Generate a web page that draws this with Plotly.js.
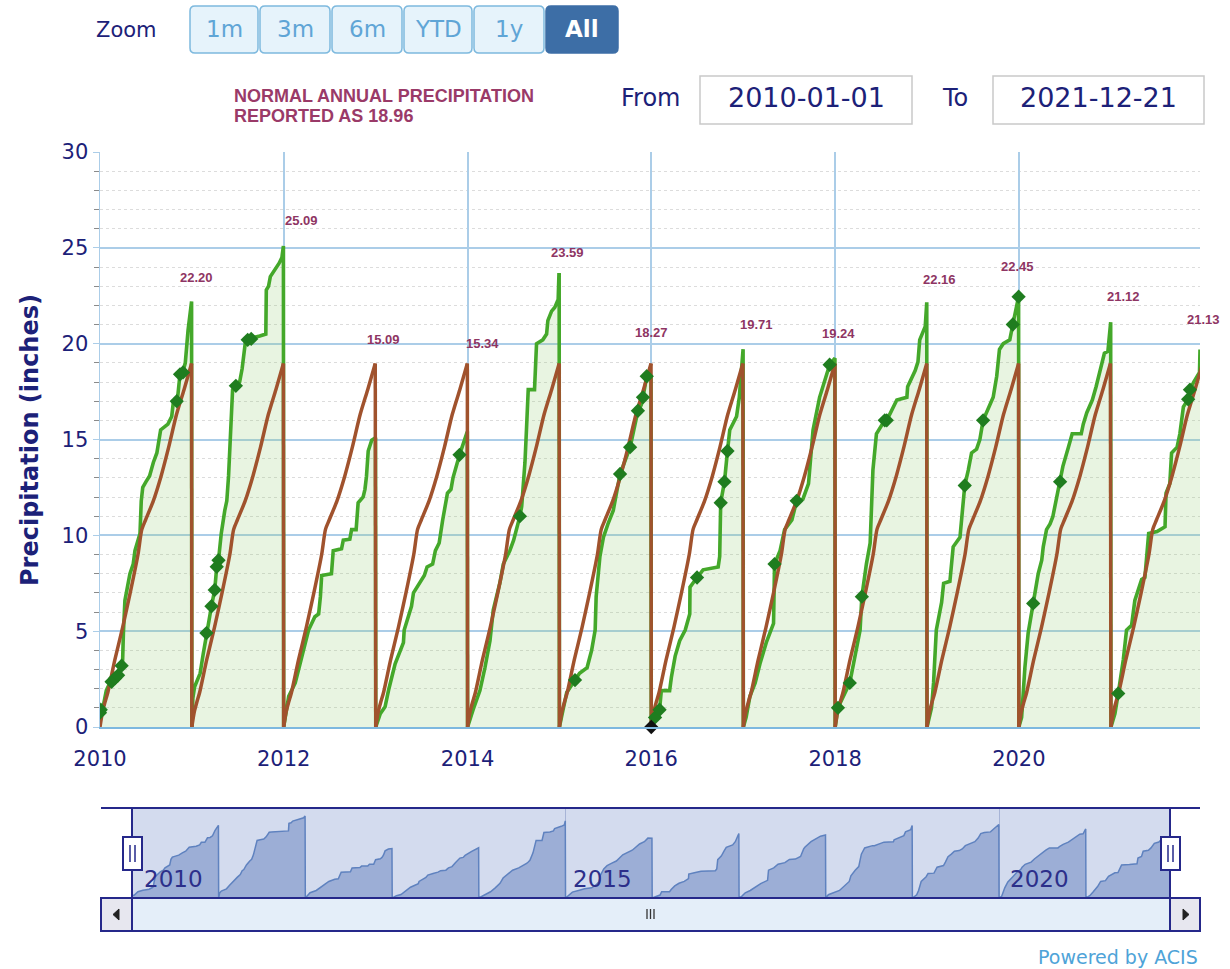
<!DOCTYPE html>
<html><head><meta charset="utf-8">
<script src="https://cdn.plot.ly/plotly-3.0.1.min.js"></script>
<style>html,body{margin:0;padding:0;background:#fff;}#chart{width:1230px;height:969px;}</style>
</head><body><div id="chart"></div>
<script>
// ---------------- DATA ----------------
const years = [2010,2011,2012,2013,2014,2015,2016,2017,2018,2019,2020,2021];
const yearTotals = ['22.20','25.09','15.09','15.34','23.59','18.27','19.71','19.24','22.16','22.45','21.12','21.13'];

// normal cumulative precipitation: [day of year, inches]
const normalDay = [0,10,20,31,59,90,120,151,166,181,212,243,273,304,334,364];
const normalVal = [0,0.8,1.3,1.8,3.5,5.2,7.0,9.0,10.3,10.8,11.8,13.1,14.6,16.3,17.6,18.96];

// observed cumulative precipitation per year: [day of year, inches]
const obs2010 = [[0,0.7],[10,0.9],[25,1.9],[32,2.1],[46,2.36],[60,2.55],[72,2.7],[86,3.2],[90,3.5],[93,4.9],[99,6.6],[119,8.0],[132,8.5],[139,9.2],[152,9.75],[159,10.1],[164,11.8],[170,12.5],[183,12.8],[197,13.1],[212,13.8],[226,14.3],[241,15.5],[270,15.8],[285,16.2],[292,17.0],[307,17.0],[318,18.4],[329,18.5],[339,19.0],[350,20.7],[361,22.2],[364,22.2]];
const obs2011 = [[0,0],[4,1.5],[11,2.1],[33,2.8],[45,3.8],[58,4.9],[78,6.3],[91,7.15],[99,8.36],[106,8.7],[117,10.1],[131,11.3],[139,11.8],[146,13.1],[150,14.1],[155,15.4],[162,17.6],[175,17.8],[190,18.0],[200,18.7],[213,20.1],[222,20.2],[240,20.3],[270,20.4],[294,20.5],[296,22.8],[305,23.0],[312,23.5],[328,23.8],[347,24.2],[358,24.5],[364,25.09]];
const obs2012 = [[0,0],[20,1.6],[46,2.3],[99,5.06],[124,5.75],[139,5.9],[146,6.8],[151,7.9],[190,8.0],[197,9.2],[230,9.3],[237,9.75],[263,9.8],[270,10.3],[288,10.3],[296,11.7],[316,12.0],[323,12.4],[329,13.06],[336,14.4],[350,14.97],[365,15.09]];
const obs2013 = [[0,0],[18,0.7],[37,1.05],[51,1.93],[77,3.3],[110,4.4],[113,5.06],[142,6.3],[150,7.0],[172,7.5],[193,7.9],[204,8.35],[226,8.5],[237,9.2],[252,9.6],[266,10.8],[285,12.2],[299,12.4],[307,13.0],[333,14.2],[347,14.8],[362,15.34],[364,15.34]];
const obs2014 = [[0,0],[22,0.9],[49,1.9],[69,3.1],[89,4.5],[102,6.1],[128,7.5],[142,8.5],[168,9.2],[183,9.75],[201,10.6],[208,11.0],[215,11.5],[228,13.8],[234,15.5],[241,17.6],[266,17.6],[274,20.0],[299,20.2],[314,20.5],[319,21.2],[334,21.7],[347,21.9],[360,22.3],[363,23.59],[364,23.59]];
const obs2015 = [[0,0],[29,1.8],[62,2.45],[80,2.8],[110,3.1],[128,4.0],[142,5.06],[146,6.8],[161,8.9],[175,9.9],[193,10.6],[214,11.3],[241,13.2],[281,14.6],[312,16.5],[325,16.8],[332,17.2],[347,18.3],[364,18.27]];
const obs2016 = [[0,0],[15,0.5],[33,0.9],[40,1.9],[73,1.9],[80,2.6],[95,3.7],[113,4.5],[135,5.06],[153,5.9],[154,7.3],[182,7.8],[206,8.2],[266,8.35],[272,8.9],[276,11.7],[291,12.8],[303,14.4],[312,15.5],[339,16.2],[350,17.2],[365,19.71]];
const obs2017 = [[0,0],[11,0.5],[26,1.6],[47,2.3],[66,3.3],[91,4.4],[120,5.4],[124,8.5],[146,9.2],[164,10.3],[193,10.8],[212,11.8],[237,11.9],[259,12.7],[272,15.0],[277,15.5],[303,17.2],[332,18.4],[343,18.9],[364,19.24]];
const obs2018 = [[0,0],[11,1.0],[58,2.3],[99,5.06],[106,6.8],[124,8.5],[139,9.6],[150,13.4],[164,15.3],[197,16.0],[205,16.0],[245,17.06],[285,17.2],[288,17.75],[318,18.6],[329,19.05],[336,20.2],[358,20.9],[364,22.16]];
const obs2019 = [[0,0],[18,1.0],[26,2.3],[37,5.06],[58,6.5],[66,7.5],[91,7.6],[104,9.4],[131,9.9],[139,10.95],[150,12.6],[164,13.4],[177,14.3],[197,14.5],[210,15.0],[223,16.0],[237,16.4],[263,17.2],[277,18.3],[288,19.7],[303,20.0],[329,20.2],[341,21.0],[356,22.1],[364,22.45]];
const obs2020 = [[0,0],[11,0.5],[24,3.1],[37,4.9],[57,6.45],[77,8.0],[91,8.7],[97,9.4],[110,10.3],[124,10.6],[135,10.97],[150,12.0],[164,12.8],[175,13.6],[197,14.6],[212,15.3],[248,15.3],[256,15.8],[270,16.4],[292,17.06],[307,17.75],[322,18.6],[340,19.5],[354,19.6],[362,20.9],[365,21.12]];
const obs2021 = [[0,0],[16,0.7],[29,1.75],[49,3.5],[62,5.06],[82,5.3],[95,6.6],[110,7.15],[122,7.7],[135,7.8],[150,10.1],[183,10.2],[215,10.45],[219,12.2],[234,12.7],[241,14.3],[263,14.6],[274,15.3],[288,16.7],[307,17.1],[314,17.6],[329,18.0],[345,18.4],[352,18.5],[354,19.7]];

// flagged (diamond) observations: [year, day of year, inches]
const flagged = [[2010,0,0.75],[2010,3,0.9],[2010,46,2.36],[2010,60,2.55],[2010,72,2.7],[2010,86,3.2],[2010,305,17.0],[2010,318,18.4],[2010,330,18.5],
 [2011,58,4.9],[2011,78,6.3],[2011,91,7.15],[2011,99,8.36],[2011,106,8.7],[2011,175,17.8],[2011,222,20.2],[2011,236,20.25],
 [2013,333,14.2],[2014,208,11.0],
 [2015,62,2.45],[2015,241,13.2],[2015,281,14.6],[2015,312,16.5],[2015,332,17.2],[2015,347,18.3],
 [2016,15,0.5],[2016,33,0.9],[2016,182,7.8],[2016,276,11.7],[2016,291,12.8],[2016,303,14.4],
 [2017,124,8.5],[2017,212,11.8],[2017,343,18.9],
 [2018,11,1.0],[2018,58,2.3],[2018,106,6.8],[2018,197,16.0],[2018,205,16.0],
 [2019,150,12.6],[2019,223,16.0],[2019,341,21.0],[2019,364,22.45],
 [2020,57,6.45],[2020,164,12.8],
 [2021,29,1.75],[2021,307,17.1],[2021,314,17.6]];
const missing = [[2016,0,0]];

// ---------------- BUILD ----------------
const obsByYear = [obs2010,obs2011,obs2012,obs2013,obs2014,obs2015,obs2016,obs2017,obs2018,obs2019,obs2020,obs2021];
function dayDate(y,d){return new Date(Date.UTC(y,0,1)+d*86400000).toISOString().slice(0,10);}
const gx=[],gy=[];
years.forEach((yr,i)=>obsByYear[i].forEach(p=>{gx.push(dayDate(yr,p[0]));gy.push(p[1]);}));
// normal: smooth yearly segments + vertical year-end drops
const nx=[],ny=[],dx=[],dy=[];
years.forEach((yr,k)=>{
  normalDay.forEach((d,j)=>{nx.push(dayDate(yr,d));ny.push(normalVal[j]);});
  nx.push(null);ny.push(null);
  if(k<years.length-1){
    dx.push(dayDate(yr,normalDay[normalDay.length-1]),dayDate(yr+1,0),null);
    dy.push(normalVal[normalVal.length-1],normalVal[0],null);
  }
});

const L=100,R=1200,T=152,B=898;
const px=x=>(x-L)/(R-L), py=y=>(B-y)/(B-T);
const NAVY='#1c2178';
const xRange=['2010-01-01','2021-12-21'];
const BROWN='#a0522d';

const traces=[
 {x:gx,y:gy,type:'scatter',mode:'lines',line:{color:'#44a82a',width:3.6},fill:'tozeroy',fillcolor:'rgba(150,205,120,0.22)',hoverinfo:'skip'},
 {x:dx,y:dy,type:'scatter',mode:'lines',line:{color:BROWN,width:3.5},connectgaps:false,hoverinfo:'skip'},
 {x:nx,y:ny,type:'scatter',mode:'lines',line:{color:BROWN,width:3.5,shape:'spline',smoothing:0.7},connectgaps:false,hoverinfo:'skip'},
 {x:flagged.map(f=>dayDate(f[0],f[1])),y:flagged.map(f=>f[2]),type:'scatter',mode:'markers',marker:{symbol:'diamond',size:11,color:'#1f7d1f'},hoverinfo:'skip'},
 {x:missing.map(f=>dayDate(f[0],f[1])),y:missing.map(f=>f[2]),type:'scatter',mode:'markers',marker:{symbol:'diamond',size:11,color:'#111'},cliponaxis:false,hoverinfo:'skip'},
 {x:gx,y:gy,xaxis:'x2',yaxis:'y2',type:'scatter',mode:'lines',line:{color:'#5f82bf',width:1.5},fill:'tozeroy',fillcolor:'#9caed6',hoverinfo:'skip'}
];

// label positions
const labelDate=['2011-01-20','2012-03-10','2013-01-30','2014-03-03','2015-02-03','2016-01-03','2017-02-24','2018-01-16','2019-02-20','2019-12-28','2021-02-18','2021-12-20'];
const labelLevel=[23.47,26.45,20.24,20.03,24.78,20.6,21.02,20.55,23.37,24.05,22.48,21.28];

const ann=[];
yearTotals.forEach((t,i)=>ann.push({x:labelDate[i],y:labelLevel[i],xref:'x',yref:'y',text:'<b>'+t+'</b>',showarrow:false,
  font:{family:'Liberation Sans, Arial',size:13,color:'#8e3563'},xanchor:'center',yanchor:'middle',xshift:(i===11?4:0)}));
function A(x,y,text,opt){ann.push(Object.assign({x:px(x),y:py(y),xref:'paper',yref:'paper',text:text,showarrow:false,xanchor:'center',yanchor:'middle',
  font:{family:'DejaVu Sans',size:20,color:NAVY}},opt||{}));}
A(30,440,'<b>Precipitation (inches)</b>',{textangle:-90,font:{family:'DejaVu Sans',size:24,color:NAVY}});
A(126,30,'Zoom',{font:{family:'DejaVu Sans',size:21,color:NAVY}});
const btn=[['1m',190,258],['3m',260,330],['6m',332,402],['YTD',404,472],['1y',474,544],['All',546,618]];
btn.forEach(b=>A((b[1]+b[2])/2,29,b[0]==='All'?'<b>All</b>':b[0],{font:{family:'DejaVu Sans',size:23,color:b[0]==='All'?'#ffffff':'#5fa5d6'}}));
A(650,98,'From',{font:{family:'DejaVu Sans',size:24,color:NAVY}});
A(806,98,'2010-01-01',{font:{family:'DejaVu Sans',size:27,color:NAVY}});
A(955,98,'To',{font:{family:'DejaVu Sans',size:24,color:NAVY}});
A(1098,98,'2021-12-21',{font:{family:'DejaVu Sans',size:27,color:NAVY}});
A(232,96,'<b>NORMAL ANNUAL PRECIPITATION</b>',{xanchor:'left',font:{family:'Liberation Sans, Arial',size:18,color:'#9a3a68'}});
A(232,116,'<b>REPORTED AS 18.96</b>',{xanchor:'left',font:{family:'Liberation Sans, Arial',size:18,color:'#9a3a68'}});
A(1200,957,'Powered by ACIS',{xanchor:'right',font:{family:'DejaVu Sans',size:19,color:'#4ea3d8'}});
A(142,879,'2010',{xanchor:'left',font:{family:'DejaVu Sans',size:23,color:'#2c2f8a'}});
A(571,879,'2015',{xanchor:'left',font:{family:'DejaVu Sans',size:23,color:'#2c2f8a'}});
A(1008,879,'2020',{xanchor:'left',font:{family:'DejaVu Sans',size:23,color:'#2c2f8a'}});

// shapes
const shapes=[];
function P(x,y){return px(x).toFixed(5)+','+py(y).toFixed(5);}
function rrect(x0,y0,x1,y1,r,fill,line,lw,layer){
 const d='M'+P(x0+r,y0)+' L'+P(x1-r,y0)+' Q'+P(x1,y0)+' '+P(x1,y0+r)+' L'+P(x1,y1-r)+' Q'+P(x1,y1)+' '+P(x1-r,y1)+
  ' L'+P(x0+r,y1)+' Q'+P(x0,y1)+' '+P(x0,y1-r)+' L'+P(x0,y0+r)+' Q'+P(x0,y0)+' '+P(x0+r,y0)+' Z';
 shapes.push({type:'path',path:d,xref:'paper',yref:'paper',fillcolor:fill,line:{color:line,width:lw},layer:layer||'above'});
}
function rect(x0,y0,x1,y1,fill,line,lw,layer){shapes.push({type:'rect',xref:'paper',yref:'paper',x0:px(x0),x1:px(x1),y0:py(y1),y1:py(y0),fillcolor:fill,line:{color:line,width:lw},layer:layer||'above'});}
function ln(x0,y0,x1,y1,c,w){shapes.push({type:'line',xref:'paper',yref:'paper',x0:px(x0),x1:px(x1),y0:py(y0),y1:py(y1),line:{color:c,width:w}});}
function tri(pts,c){shapes.push({type:'path',xref:'paper',yref:'paper',path:'M'+pts.map(p=>P(p[0],p[1])).join(' L')+' Z',fillcolor:c,line:{color:c,width:1}});}

btn.forEach(b=>rrect(b[1],6,b[2],53,5,b[0]==='All'?'#3d6ea6':'#e6f3fb',b[0]==='All'?'#3d6ea6':'#7db9de',1.5));
rect(700,76,912,124,'#ffffff','#c9c9c9',1.5);
rect(993,76,1204,124,'#ffffff','#c9c9c9',1.5);
// navigator
rect(132,808,1170,898,'#d3dbee','rgba(0,0,0,0)',0,'below');
ln(101,808,1200,808,'#25288a',2);
ln(132,808,132,898,'#25288a',2);
ln(1170,808,1170,898,'#25288a',2);
rect(101,898,1200,931,'#e4eef9','#25288a',2);
rect(101,898,132,931,'#e7e7ef','#25288a',2);
rect(1170,898,1200,931,'#e7e7ef','#25288a',2);
tri([[119,909],[113,914.5],[119,920]],'#222');
tri([[1183,909],[1189,914.5],[1183,920]],'#222');
ln(647,909,647,919,'#333',1.3);ln(650.5,909,650.5,919,'#333',1.3);ln(654,909,654,919,'#333',1.3);
rect(123,837,142,870,'#ffffff','#25288a',2);
ln(130,845,130,862,'#25288a',1.5);ln(135,845,135,862,'#25288a',1.5);
rect(1161,837,1180,870,'#ffffff','#25288a',2);
ln(1168,845,1168,862,'#25288a',1.5);ln(1173,845,1173,862,'#25288a',1.5);

const GRID='#abcde8';
const layout={
 width:1230,height:969,margin:{l:L,r:1230-R,t:T,b:969-B},
 paper_bgcolor:'#ffffff',plot_bgcolor:'#ffffff',showlegend:false,
 xaxis:{type:'date',domain:[0,1],anchor:'y',range:xRange,tick0:'2010-01-01',dtick:'M24',tickformat:'%Y',
   showgrid:true,gridcolor:GRID,gridwidth:2,showline:true,linecolor:'#7db8df',linewidth:2,ticks:'',
   ticklabelstandoff:12,tickfont:{family:'DejaVu Sans',size:21,color:NAVY},zeroline:false,fixedrange:true},
 yaxis:{domain:[py(727),1],anchor:'x',range:[0,30],tick0:0,dtick:5,showgrid:true,gridcolor:GRID,gridwidth:2,zeroline:false,
   showline:true,linecolor:GRID,linewidth:1.5,ticks:'outside',ticklen:6,tickcolor:GRID,
   tickfont:{family:'DejaVu Sans',size:21,color:NAVY},
   minor:{tick0:0,dtick:1,ticks:'outside',ticklen:5,tickcolor:'#8a8a8a',showgrid:true,gridcolor:'#dcdcdc',griddash:'dot',gridwidth:1},fixedrange:true},
 xaxis2:{type:'date',domain:[px(132),px(1170)],anchor:'y2',range:xRange,tick0:'2010-01-01',dtick:'M60',showgrid:true,gridcolor:'#a7b4d6',
   showticklabels:false,ticks:'',zeroline:false,showline:false,fixedrange:true},
 yaxis2:{domain:[0,py(808)],anchor:'x2',range:[0,27.5],showgrid:false,showticklabels:false,zeroline:false,ticks:'',fixedrange:true},
 annotations:ann,shapes:shapes
};
Plotly.newPlot('chart',traces,layout,{displayModeBar:false,staticPlot:true});
</script></body></html>
